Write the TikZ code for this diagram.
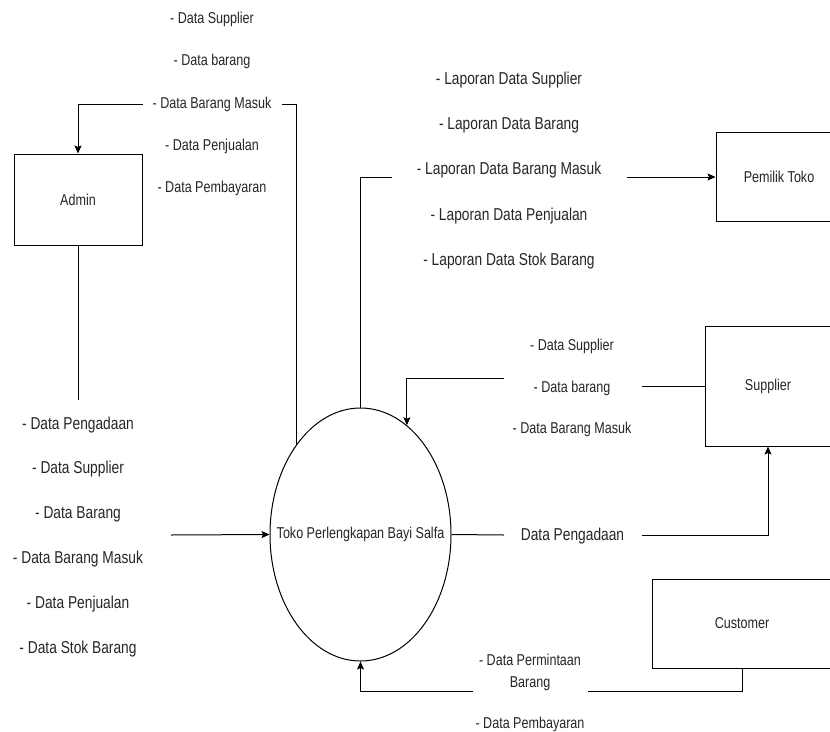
\documentclass[tikz,border=0pt]{standalone}
\usepackage{fontspec}
\setmainfont{Liberation Sans}[FakeStretch=0.8]
\usetikzlibrary{arrows.meta,shapes.geometric}
\begin{document}
\begin{tikzpicture}[x=1pt,y=-1pt,line width=1pt,
  sm/.style={font=\fontsize{15.7}{18}\selectfont},
  entity/.style={draw,rectangle,inner sep=0,sm,text=black!85},
  lab/.style={align=center,inner sep=0,text=black!85},
  flow/.style={-{Stealth[length=8pt,width=7pt,inset=1.5pt]}}]
\fill[white] (0,0) rectangle (830,731);
\useasboundingbox (0,0) rectangle (830,731);
\clip (0,0) rectangle (830,731);

% entities
\node[entity,minimum width=128pt,minimum height=91pt] (admin) at (78,199.5) {Admin};
\node[entity,minimum width=126pt,minimum height=89pt] (pem) at (779,177) {Pemilik Toko};
\node[entity,minimum width=126pt,minimum height=120pt] (sup) at (768,386) {Supplier};
\node[entity,minimum width=180pt,minimum height=89pt] (cust) at (742,623.5) {Customer};

% process
\node[draw,ellipse,minimum width=181pt,minimum height=253pt,inner sep=0] (toko) at (360.5,534.5) {};
\node[sm,inner sep=0,text=black!85] (tokotxt) at (toko.center) {Toko Perlengkapan Bayi Salfa};

% labels
\node[lab,font=\fontsize{15.7}{42.25}\selectfont] (ladm) at (212,104)
  {- Data Supplier\\- Data barang\\- Data Barang Masuk\\- Data Penjualan\\- Data Pembayaran};
\node[lab,font=\fontsize{17.2}{45.25}\selectfont] (llap) at (509,170.5)
  {- Laporan Data Supplier\\- Laporan Data Barang\\- Laporan Data Barang Masuk\\- Laporan Data Penjualan\\- Laporan Data Stok Barang};
\node[lab,font=\fontsize{17.2}{44.8}\selectfont] (lleft) at (78,536.7)
  {- Data Pengadaan\\- Data Supplier\\- Data Barang\\- Data Barang Masuk\\- Data Penjualan\\- Data Stok Barang};
\node[lab,font=\fontsize{15.7}{41.5}\selectfont] (lsup) at (572,388)
  {- Data Supplier\\- Data barang\\- Data Barang Masuk};
\node[lab,font=\fontsize{17.2}{20}\selectfont] (lpeng) at (572.5,536.5) {Data Pengadaan};
\node[lab,font=\fontsize{15.7}{22}\selectfont] (lcust) at (530,693)
  {- Data Permintaan\\Barang\\[19pt]- Data Pembayaran};

% gap coordinates
\coordinate (a1) at (282,104);
\coordinate (a2) at (143,104);
\coordinate (b1) at (392,177);
\coordinate (b2) at (627,177);
\coordinate (s1) at (642,386);
\coordinate (s2) at (504,378);
\coordinate (p1) at (504,535);
\coordinate (p2) at (642,535);
\coordinate (c1) at (588,691);
\coordinate (c2) at (473,691);
\coordinate (l1) at (78,400);
\coordinate (l2) at (171,535);

% flows
\draw (toko.125) |- (a1);
\draw[flow] (a2) -| (admin.north);
\draw (toko.north) |- (b1);
\draw[flow] (b2) -- (pem.west);
\draw (sup.west) -- (s1);
\draw[flow] (s2) -| (toko.67);
\draw (toko.east) -- (p1);
\draw[flow] (p2) -| (sup.south);
\draw (cust.south) |- (c1);
\draw[flow] (c2) -| (toko.south);
\draw (admin.south) -- (l1);
\draw[flow] (l2) -- (toko.west);
\end{tikzpicture}
\end{document}
